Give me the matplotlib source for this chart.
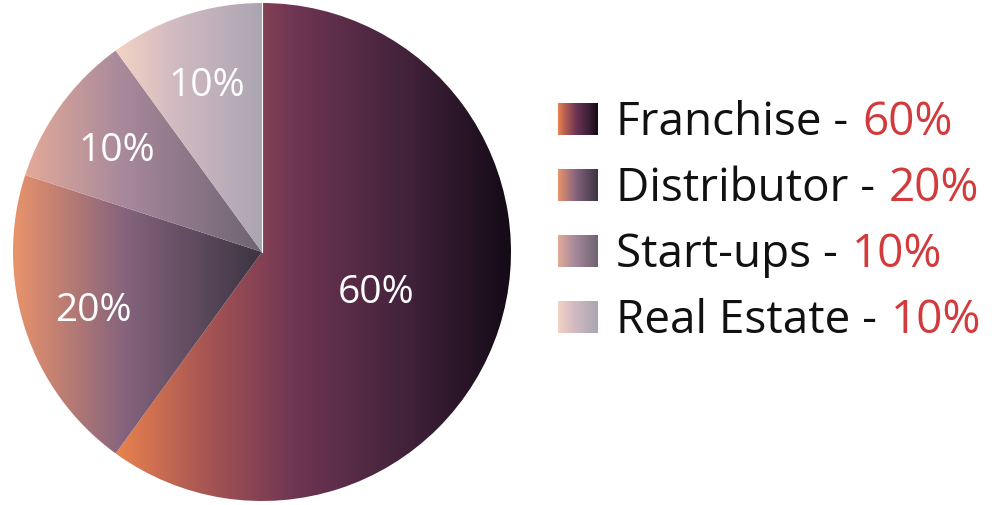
"""Pie chart with gradient wedges"""

import numpy as np
import matplotlib
matplotlib.use("Agg")
import matplotlib.pyplot as plt
from matplotlib.colors import LinearSegmentedColormap

plt.rcParams['font.family'] = ['Open Sans', 'DejaVu Sans']

# data
labels = ["Franchise", "Distributor", "Start-ups", "Real Estate"]
shares = [60, 20, 10, 10]

# gradient stops (left -> right) for each wedge
grad_stops = [
    [(0.0, "#e9824e"), (0.22, "#a95754"), (0.45, "#6f3553"), (0.75, "#3f2139"), (1.0, "#140a16")],
    [(0.0, "#e9936b"), (0.45, "#85637d"), (1.0, "#3b3441")],
    [(0.0, "#e3aa98"), (0.4, "#a98a9c"), (1.0, "#6d6371")],
    [(0.0, "#f3d3c3"), (0.4, "#d2bac2"), (1.0, "#aaa5b1")],
]
label_dist = [0.48, 0.71, 0.72, 0.72]

W, H = 992, 505
fig = plt.figure(figsize=(W / 100, H / 100), dpi=100)

cmaps = [LinearSegmentedColormap.from_list(lab, stops) for lab, stops in zip(labels, grad_stops)]
grad = np.linspace(0, 1, 256).reshape(1, -1)

# pie
ax = fig.add_axes([13 / W, 4 / H, 498 / W, 498 / H])
wedges, _ = ax.pie(shares, startangle=90, counterclock=False, radius=1,
                   wedgeprops=dict(linewidth=0, facecolor="none"))
for w, cm in zip(wedges, cmaps):
    ext = w.get_path().get_extents()
    im = ax.imshow(grad, cmap=cm, aspect="auto", interpolation="bilinear",
                   extent=(ext.x0, ext.x1, ext.y0, ext.y1), zorder=1)
    im.set_clip_path(w)

# percent labels inside wedges
for w, s, d in zip(wedges, shares, label_dist):
    ang = np.deg2rad((w.theta1 + w.theta2) / 2)
    ax.text(d * np.cos(ang), d * np.sin(ang), f"{s}%", color="white",
            fontsize=28, ha="center", va="center_baseline", zorder=3)

# thin white separator at the top
ax.plot([0, 0], [0, 1], color="white", lw=0.8, zorder=2)

ax.set_xlim(-1, 1)
ax.set_ylim(-1, 1)
ax.set_aspect("equal")
ax.axis("off")

# legend drawn in pixel coordinates
lax = fig.add_axes([0, 0, 1, 1])
lax.set_xlim(0, W)
lax.set_ylim(H, 0)
lax.axis("off")

top0, step = 103, 66
for i, (lab, s, cm) in enumerate(zip(labels, shares, cmaps)):
    top = top0 + i * step
    bot = top + 32
    lax.imshow(grad, cmap=cm, aspect="auto", interpolation="bilinear",
               extent=(558, 598, bot, top))
    t = lax.text(616, bot, f"{lab} -", fontsize=33, color="#111111",
                 ha="left", va="baseline")
    lax.annotate(f"{s}%", xy=(1, 0), xycoords=t, xytext=(10, 0),
                 textcoords="offset points", fontsize=33, color="#d23a3c",
                 ha="left", va="bottom")

lax.set_xlim(0, W)
lax.set_ylim(H, 0)

fig.savefig("out.png", dpi=100, facecolor="white")
